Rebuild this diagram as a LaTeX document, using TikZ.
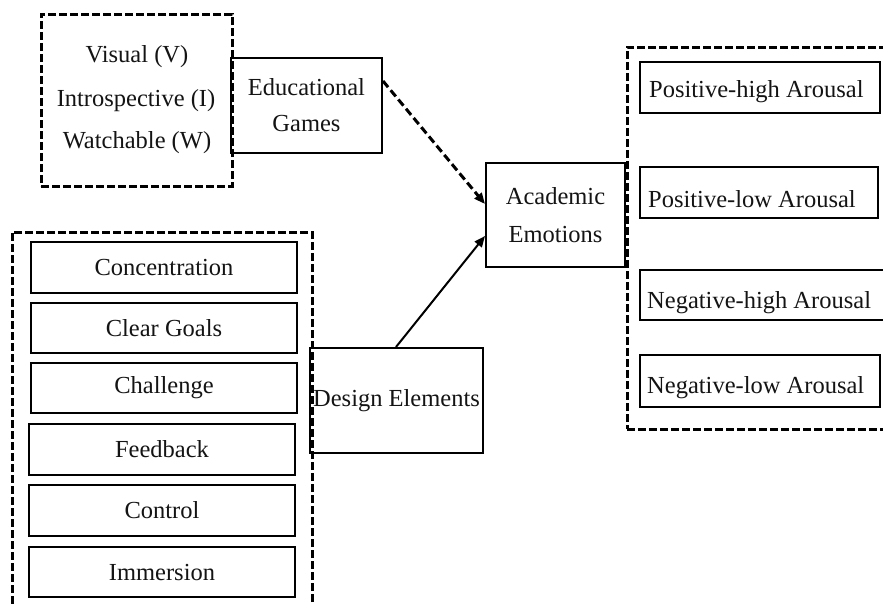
\documentclass[tikz,border=0pt]{standalone}
\usepackage{fontspec}
\setmainfont{Liberation Serif}
\usetikzlibrary{calc,arrows.meta}
\begin{document}
\begin{tikzpicture}[x=1pt,y=-1pt,
  every node/.style={font=\fontsize{24.5}{36}\selectfont, text=black!92, inner sep=0pt},
  box/.style={draw, line width=2pt, rectangle},
  frame/.style={draw, line width=3pt, rectangle, dash pattern=on 8pt off 3pt},
  arr/.style={line width=2pt, -{Triangle[length=11pt,width=9pt]}}
]
\clip (0,0) rectangle (883,603);
\fill[white] (0,0) rectangle (883,603);

% top-left frame with game types
\node[frame, minimum width=191pt, minimum height=172pt] (types) at (136.5,100) {};
\node (vis) at (137,57) {Visual (V)};
\node (intro) at (136,101) {Introspective (I)};
\node (watch) at (137,143) {Watchable (W)};

% educational games
\node[box, minimum width=151pt, minimum height=95pt, align=center] (edu) at (306.5,105.5) {Educational\\Games};

% academic emotions
\node[box, minimum width=139pt, minimum height=104pt, align=center, font=\fontsize{24.5}{38}\selectfont] (acad) at (555.5,215) {Academic\\Emotions};

% right frame
\node[frame, minimum width=280pt, minimum height=382pt] (emo) at (767,238) {};
\node[box, minimum width=240pt, minimum height=51pt] (ph) at (760,87.5) {};
\node[anchor=west] (phT) at (649,92) {Positive-high Arousal};
\node[box, minimum width=238pt, minimum height=51pt] (pl) at (759,192.5) {};
\node[anchor=west] (plT) at (648,199) {Positive-low Arousal};
\node[box, minimum width=252pt, minimum height=50pt] (nh) at (766,295) {};
\node[anchor=west] (nhT) at (647,303) {Negative-high Arousal};
\node[box, minimum width=240pt, minimum height=52pt] (nl) at (760,381) {};
\node[anchor=west] (nlT) at (647,388) {Negative-low Arousal};

% bottom-left frame with design elements
\node[frame, minimum width=300pt, minimum height=400pt] (elems) at (162,432) {};
\node[box, minimum width=266pt, minimum height=51pt] (conc) at (164,267.5) {Concentration};
\node[box, minimum width=266pt, minimum height=50pt] (goals) at (164,328) {Clear Goals};
\node[box, minimum width=266pt, minimum height=50pt] (chal) at (164,388) {Challenge};
\node[box, minimum width=266pt, minimum height=51pt] (feed) at (162,449.5) {Feedback};
\node[box, minimum width=266pt, minimum height=51pt] (ctrl) at (162,510.5) {Control};
\node[box, minimum width=266pt, minimum height=50pt] (imm) at (162,572) {Immersion};

% design elements
\node[box, minimum width=173pt, minimum height=105pt] (design) at (396.5,400.5) {Design Elements};

% connectors
\draw[arr, line width=3pt, dash pattern=on 8pt off 4pt] ($(edu.north east)+(0,24)$) -- ($(acad.north west)+(0,42)$);
\draw[arr] ($(design.north west)+(87,0)$) -- ($(acad.north west)+(0,74)$);
\end{tikzpicture}
\end{document}
